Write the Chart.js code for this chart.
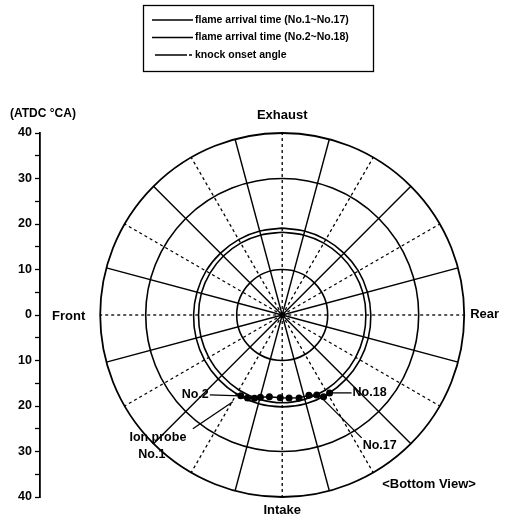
<!DOCTYPE html>
<html>
<head>
<meta charset="utf-8">
<script src="https://cdn.jsdelivr.net/npm/chart.js@4/dist/chart.umd.min.js"></script>
<style>
  html, body { margin: 0; padding: 0; background: #fff; }
  canvas { display: block; }
</style>
</head>
<body>
<canvas id="chart" width="513" height="519"></canvas>
<script>
// Azimuth in degrees, clockwise from the exhaust side (bottom view); radius = crank angle ATDC.
const flameAzimuth = [0, 15, 30, 45, 60, 75, 90, 105, 120, 135, 150, 165,
                      180, 195, 210, 225, 240, 255, 270, 285, 300, 315, 330, 345];
const flameOdd  = [19.1, 19.1, 19.2, 19.3, 19.5, 19.6, 19.7, 19.8, 19.9, 20.0, 20.1, 20.2,
                   20.2, 20.2, 20.1, 20.0, 19.9, 19.8, 19.7, 19.6, 19.5, 19.3, 19.2, 19.1];
const flameEven = [18.2, 18.2, 18.3, 18.4, 18.5, 18.6, 18.6, 18.7, 18.8, 18.9, 19.1, 19.2,
                   19.3, 19.2, 19.1, 18.9, 18.8, 18.7, 18.6, 18.6, 18.5, 18.4, 18.3, 18.2];

const knockAzimuth = [207.4, 202.9, 198.6, 195.0, 189.0, 181.4, 175.2, 168.4, 161.4, 156.4, 152.9, 148.4];
const knockOnset   = [20.0, 19.8, 19.3, 18.7, 18.2, 18.2, 18.3, 18.6, 18.6, 19.2, 20.2, 20.1];

const probeNames   = ['Ion probe|No.1', 'No.2', 'No.17', 'No.18'];
const probeAzimuth = [209.9, 207.4, 153.7, 148.4];
const probeAngle   = [22.0, 20.0, 20.8, 20.1];

const axisTicks  = [-40, -35, -30, -25, -20, -15, -10, -5, 0, 5, 10, 15, 20, 25, 30, 35, 40];
const ringValues = [10, 30, 40];
const spokeAzimuth = [0, 15, 30, 45, 60, 75, 90, 105, 120, 135, 150, 165,
                      180, 195, 210, 225, 240, 255, 270, 285, 300, 315, 330, 345];
const sideNames = ['Exhaust', 'Rear', 'Intake', 'Front'];
const axisTitle = '(ATDC °CA)';
const viewNote = '<Bottom View>';

// Layout (pixels)
const W = 513, H = 519;
const PLOT_TOP = 133, PLOT_BOTTOM = 497, AXIS_X = 40, CENTER_X = 285;
const R_MAX = 40;
const PX_PER_UNIT = (PLOT_BOTTOM - PLOT_TOP) / (2 * R_MAX);
const X_MIN = -(CENTER_X - AXIS_X) / PX_PER_UNIT;
const X_MAX = (W - CENTER_X) / PX_PER_UNIT;

const FONT = '"Liberation Sans", Arial, Helvetica, sans-serif';

function polar(az, r) {
  const t = az * Math.PI / 180;
  return { x: r * Math.sin(t), y: r * Math.cos(t) };
}
function closedLoop(azs, vals) {
  const pts = azs.map((a, i) => polar(a, vals[i]));
  pts.push(pts[0]);
  return pts;
}

const polarGrid = {
  id: 'polarGrid',
  beforeDatasetsDraw(chart) {
    const { ctx, scales: { x, y } } = chart;
    const cx = x.getPixelForValue(0), cy = y.getPixelForValue(0);
    const u = Math.abs(y.getPixelForValue(1) - cy);
    ctx.save();
    ctx.strokeStyle = '#000';
    // spokes
    spokeAzimuth.forEach(a => {
      const t = a * Math.PI / 180;
      const dashed = a % 30 === 0;
      ctx.setLineDash(dashed ? [3, 3] : []);
      ctx.lineWidth = dashed ? 1.3 : 1.4;
      ctx.beginPath();
      ctx.moveTo(cx, cy);
      ctx.lineTo(cx + R_MAX * u * Math.sin(t), cy - R_MAX * u * Math.cos(t));
      ctx.stroke();
    });
    ctx.setLineDash([]);
    // rings
    ringValues.forEach(r => {
      ctx.lineWidth = r === R_MAX ? 1.8 : 1.6;
      ctx.beginPath();
      ctx.arc(cx, cy, r * u, 0, Math.PI * 2);
      ctx.stroke();
    });
    ctx.restore();
  }
};

const annotations = {
  id: 'annotations',
  afterDraw(chart) {
    const { ctx, scales: { x, y } } = chart;
    const cx = x.getPixelForValue(0), cy = y.getPixelForValue(0);
    const u = Math.abs(y.getPixelForValue(1) - cy);
    const R = R_MAX * u;
    ctx.save();
    ctx.fillStyle = '#000';
    ctx.strokeStyle = '#000';
    ctx.textBaseline = 'middle';

    // side names
    ctx.font = 'bold 13px ' + FONT;
    ctx.textAlign = 'center';
    ctx.fillText(sideNames[0], cx, cy - R - 18);
    ctx.fillText(sideNames[2], cx, cy + R + 13);
    ctx.textAlign = 'left';
    ctx.fillText(sideNames[1], cx + R + 6, cy - 1);
    ctx.fillText(sideNames[3], AXIS_X + 12, cy + 1);
    ctx.fillText(viewNote, cx + 100, cy + 169);

    // axis title
    ctx.font = 'bold 12px ' + FONT;
    ctx.fillText(axisTitle, 10, y.getPixelForValue(R_MAX) - 19);

    // probe labels with leader lines
    ctx.font = 'bold 12.5px ' + FONT;
    ctx.lineWidth = 1.3;
    const anchor = i => {
      const p = polar(probeAzimuth[i], probeAngle[i]);
      return { px: x.getPixelForValue(p.x), py: y.getPixelForValue(p.y) };
    };
    // No.1
    let a = anchor(0);
    ctx.beginPath(); ctx.moveTo(a.px - 40, a.py + 27); ctx.lineTo(a.px, a.py); ctx.stroke();
    const lines = probeNames[0].split('|');
    ctx.textAlign = 'center';
    ctx.fillText(lines[0], a.px - 75, a.py + 36);
    ctx.fillText(lines[1], a.px - 81, a.py + 53);
    // No.2
    a = anchor(1);
    ctx.beginPath(); ctx.moveTo(a.px - 31, a.py - 1); ctx.lineTo(a.px, a.py); ctx.stroke();
    ctx.textAlign = 'right';
    ctx.fillText(probeNames[1], a.px - 32, a.py - 1);
    // No.17
    a = anchor(2);
    ctx.beginPath(); ctx.moveTo(a.px, a.py); ctx.lineTo(a.px + 38, a.py + 38); ctx.stroke();
    ctx.textAlign = 'left';
    ctx.fillText(probeNames[2], a.px + 39, a.py + 46);
    // No.18
    a = anchor(3);
    ctx.beginPath(); ctx.moveTo(a.px, a.py); ctx.lineTo(a.px + 22, a.py); ctx.stroke();
    ctx.fillText(probeNames[3], a.px + 23, a.py);

    ctx.restore();
  }
};

const boxLegend = {
  id: 'boxLegend',
  afterDraw(chart) {
    const { ctx } = chart;
    const bx = 143, by = 5, bw = 230, bh = 66;
    ctx.save();
    ctx.strokeStyle = '#000';
    ctx.lineWidth = 1.3;
    ctx.strokeRect(bx + 0.5, by + 0.5, bw, bh);
    ctx.font = 'bold 10.5px ' + FONT;
    ctx.fillStyle = '#000';
    ctx.textAlign = 'left';
    ctx.textBaseline = 'middle';
    chart.data.datasets.forEach((ds, i) => {
      const ly = 20 + i * 17.5;
      ctx.lineWidth = 1.5;
      ctx.beginPath();
      if (i < 2) {
        ctx.moveTo(152, ly); ctx.lineTo(193, ly);
      } else {
        ctx.moveTo(155, ly); ctx.lineTo(187, ly);
        ctx.moveTo(189, ly); ctx.lineTo(192, ly);
      }
      ctx.stroke();
      ctx.fillText(ds.label, 195, ly);
    });
    ctx.restore();
  }
};

new Chart(document.getElementById('chart'), {
  type: 'scatter',
  data: {
    datasets: [
      {
        label: 'flame arrival time (No.1~No.17)',
        data: closedLoop(flameAzimuth, flameOdd),
        showLine: true, borderColor: '#000', borderWidth: 1.6,
        pointRadius: 0, tension: 0.3
      },
      {
        label: 'flame arrival time (No.2~No.18)',
        data: closedLoop(flameAzimuth, flameEven),
        showLine: true, borderColor: '#000', borderWidth: 1.6,
        pointRadius: 0, tension: 0.3
      },
      {
        label: 'knock onset angle',
        data: knockAzimuth.map((a, i) => polar(a, knockOnset[i])),
        showLine: true, borderColor: '#000', borderWidth: 1.4,
        pointRadius: 2.8, pointBackgroundColor: '#000', pointBorderColor: '#000',
        tension: 0
      }
    ]
  },
  options: {
    responsive: false,
    animation: false,
    devicePixelRatio: 1,
    layout: { padding: { top: PLOT_TOP, bottom: H - PLOT_BOTTOM, left: 0, right: 0 } },
    plugins: { legend: { display: false }, tooltip: { enabled: false } },
    scales: {
      x: { type: 'linear', display: false, min: X_MIN, max: X_MAX },
      y: {
        type: 'linear', position: 'left', min: -R_MAX, max: R_MAX,
        afterFit(s) { s.width = AXIS_X; },
        afterBuildTicks(s) { s.ticks = axisTicks.map(v => ({ value: v })); },
        ticks: {
          autoSkip: false, padding: 3, color: '#000',
          font: { family: FONT, size: 12.5, weight: 'bold' },
          callback: v => (v % 10 === 0 ? String(Math.abs(v)) : '')
        },
        grid: { drawOnChartArea: false, drawTicks: true, tickLength: 5, tickColor: '#000', tickWidth: 1.3 },
        border: { display: true, color: '#000', width: 1.8 }
      }
    }
  },
  plugins: [polarGrid, annotations, boxLegend]
});
</script>
</body>
</html>
